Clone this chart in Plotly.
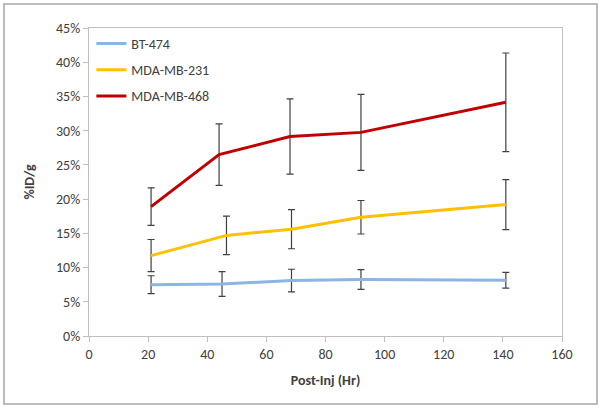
import plotly.graph_objects as go

series_names = ["BT-474", "MDA-MB-231", "MDA-MB-468"]
colors = ["#8DB4E2", "#FFC000", "#C00000"]

bt474_x = [21, 45, 68.5, 92, 141]
bt474_y = [7.5, 7.6, 8.1, 8.25, 8.15]
bt474_err = [1.3, 1.8, 1.65, 1.45, 1.15]

mda231_x = [21, 46.5, 68.5, 92, 141]
mda231_y = [11.75, 14.7, 15.6, 17.35, 19.2]
mda231_err = [2.35, 2.8, 2.85, 2.45, 3.65]

mda468_x = [21, 44, 68, 92, 141]
mda468_y = [18.9, 26.5, 29.15, 29.75, 34.15]
mda468_err = [2.75, 4.5, 5.5, 5.55, 7.2]

x_ticks = [0, 20, 40, 60, 80, 100, 120, 140, 160]
y_ticks = [0, 5, 10, 15, 20, 25, 30, 35, 40, 45]
y_tick_labels = ["0%", "5%", "10%", "15%", "20%", "25%", "30%", "35%", "40%", "45%"]

font_family = "Carlito, Lato, 'Open Sans', sans-serif"
txt = "#404040"

fig = go.Figure()
for i, (xs, ys, es) in enumerate([(bt474_x, bt474_y, bt474_err),
                                  (mda231_x, mda231_y, mda231_err),
                                  (mda468_x, mda468_y, mda468_err)]):
    fig.add_trace(go.Scatter(
        x=xs, y=ys, mode="lines", name=series_names[i],
        legendgroup=series_names[i],
        line=dict(color=colors[i], width=3),
        error_y=dict(type="data", array=es, visible=True,
                     color="#404040", thickness=1.2, width=3.5),
    ))

axis_common = dict(
    showgrid=False, zeroline=False, showline=True, linecolor="#BFBFBF",
    linewidth=1, mirror=True, ticks="outside", ticklen=5, tickcolor="#BFBFBF",
    tickfont=dict(size=14, color=txt, family=font_family),
)

fig.update_layout(
    width=602, height=409,
    margin=dict(l=89, r=40, t=28, b=73),
    paper_bgcolor="white", plot_bgcolor="white",
    showlegend=True,
    legend=dict(x=0.005, y=1.0, xanchor="left", yanchor="top",
                bgcolor="rgba(0,0,0,0)", tracegroupgap=5,
                font=dict(size=14, color=txt, family=font_family)),
    xaxis=dict(range=[0, 160], tickmode="array", tickvals=x_ticks,
               ticktext=[str(v) for v in x_ticks],
               title=dict(text="<b>Post-Inj (Hr)</b>", standoff=13,
                          font=dict(size=14, color=txt, family=font_family)),
               **axis_common),
    yaxis=dict(range=[0, 45], tickmode="array", tickvals=y_ticks,
               ticktext=y_tick_labels,
               title=dict(text="<b>%ID/g</b>", standoff=18,
                          font=dict(size=14, color=txt, family=font_family)),
               **axis_common),
)

pw, ph = 602 - 89 - 40, 409 - 28 - 73
fig.add_shape(type="rect", xref="paper", yref="paper",
              x0=(4 - 89) / pw, x1=(597 - 89) / pw,
              y0=(409 - 73 - 404) / ph, y1=(409 - 73 - 4) / ph,
              line=dict(color="#A6A6A6", width=1.5), layer="below")

fig.write_html("out.html", config={"displayModeBar": False},
               post_script="document.body.style.margin='0';document.body.style.overflow='hidden';")
